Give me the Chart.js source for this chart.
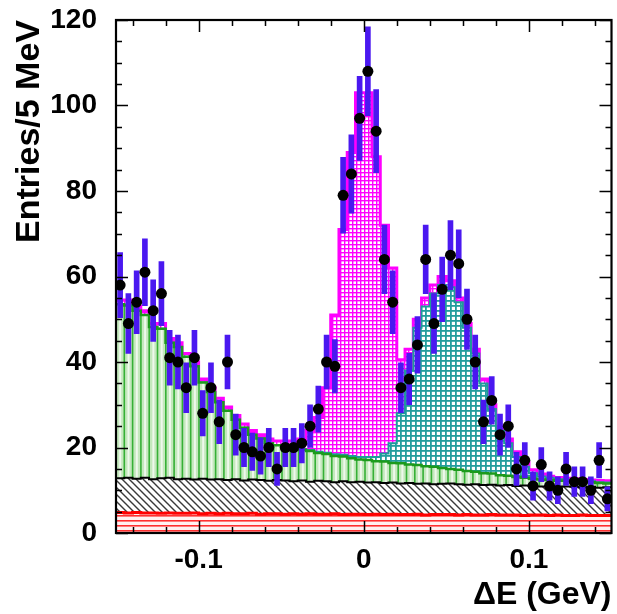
<!DOCTYPE html>
<html>
<head>
<meta charset="utf-8">
<script src="https://cdn.jsdelivr.net/npm/chart.js@4.4.1/dist/chart.umd.min.js"></script>
<style>
  html, body { margin: 0; padding: 0; background: #fff; }
  canvas { display: block; }
</style>
</head>
<body>
<canvas id="c" width="617" height="614"></canvas>
<script>
// ΔE distribution: 60 bins of 5 MeV between -0.15 and 0.15 GeV
const binLow = -0.15;
const binWidth = 0.005;
const nBins = 60;

// observed entries per bin
const entries = [
  58, 49, 54, 61, 52, 56, 41, 40, 34, 41,
  28, 34, 26, 40, 23, 20, 19, 18, 20, 15,
  20, 20, 21, 25, 29, 40, 39, 79, 84, 97,
  108, 94, 64, 54, 34, 36, 44, 64, 49, 57,
  65, 63, 50, 40, 26, 31, 23, 25, 15, 17,
  11, 16, 11, 10, 15, 12, 12, 10, 17, 8
];

// stacked fit components, as the cumulative top edge of each layer
const topRed = [
  4.8, 4.7, 4.8, 4.7, 4.7, 4.6, 4.7, 4.6, 4.6, 4.7,
  4.5, 4.6, 4.5, 4.6, 4.5, 4.5, 4.6, 4.4, 4.5, 4.5,
  4.4, 4.5, 4.4, 4.5, 4.4, 4.4, 4.5, 4.3, 4.4, 4.4,
  4.3, 4.4, 4.3, 4.4, 4.3, 4.3, 4.4, 4.2, 4.3, 4.3,
  4.3, 4.2, 4.3, 4.2, 4.2, 4.3, 4.2, 4.2, 4.2, 4.1,
  4.2, 4.2, 4.1, 4.2, 4.1, 4.1, 4.2, 4.1, 4.1, 4.1
];
const topBlack = [
  12.8, 12.9, 12.7, 12.9, 12.6, 12.8, 12.9, 12.6, 12.7, 12.5,
  12.7, 12.5, 12.6, 12.4, 12.6, 12.3, 12.5, 12.4, 12.2, 12.4,
  12.3, 12.1, 12.3, 12.0, 12.2, 12.1, 11.9, 12.1, 11.9, 12.0,
  11.8, 11.9, 11.7, 11.8, 11.6, 11.7, 11.5, 11.6, 11.4, 11.5,
  11.6, 11.4, 11.3, 11.4, 11.2, 11.3, 11.1, 11.2, 11.0, 11.1,
  11.0, 10.9, 11.0, 10.8, 10.9, 10.8, 10.7, 10.8, 10.6, 10.7
];
const topGreen = [
  53.5, 53.2, 52.0, 51.0, 48.2, 47.8, 44.5, 43.5, 41.2, 39.0,
  35.2, 33.0, 30.6, 28.6, 26.5, 24.6, 23.0, 22.1, 21.0, 20.5,
  20.2, 19.9, 19.5, 19.2, 18.7, 18.5, 18.0, 17.9, 17.5, 17.2,
  17.1, 16.8, 16.7, 16.4, 16.3, 16.0, 15.9, 15.6, 15.5, 15.2,
  15.0, 14.8, 14.5, 14.3, 14.0, 13.9, 13.5, 13.4, 13.1, 12.9,
  12.7, 12.5, 12.4, 12.2, 12.2, 12.0, 11.9, 11.9, 11.7, 11.6
];
const topCyan = [
  53.5, 53.2, 52.0, 51.0, 48.2, 47.8, 44.5, 43.5, 41.2, 39.0,
  35.2, 33.0, 30.6, 28.6, 26.5, 24.6, 23.0, 22.1, 21.0, 20.5,
  20.2, 19.9, 19.6, 19.4, 19.0, 18.8, 18.4, 18.3, 18.0, 17.8,
  17.8, 17.8, 18.6, 21.0, 28.0, 38.0, 48.0, 53.0, 56.0, 58.0,
  57.5, 54.0, 48.0, 42.0, 35.0, 29.0, 24.0, 21.0, 17.8, 15.5,
  14.0, 13.2, 12.9, 12.6, 12.5, 12.3, 12.2, 12.1, 11.9, 11.8
];
const topTotal = [
  54.5, 54.5, 53.0, 52.0, 49.0, 49.0, 45.5, 44.5, 42.0, 40.0,
  36.0, 34.0, 31.5, 29.5, 27.5, 25.5, 24.0, 23.0, 22.0, 21.5,
  21.5, 21.5, 22.0, 24.0, 27.0, 34.0, 51.0, 71.0, 89.0, 103.0,
  103.0, 88.0, 72.0, 62.0, 40.5, 43.0, 50.0, 55.0, 58.0, 60.0,
  59.0, 55.0, 49.0, 43.0, 36.0, 30.0, 25.0, 22.0, 19.0, 16.5,
  14.8, 13.8, 13.3, 13.0, 12.8, 12.7, 12.5, 12.4, 12.3, 12.2
];

const xTickValues = [-0.1, 0, 0.1];
const yRange = [0, 120];

const FAMILY = '"Liberation Sans", Arial, Helvetica, sans-serif';
const FONT = { family: FAMILY, size: 28, weight: 'bold' };

const canvas = document.getElementById('c');
const ctx = canvas.getContext('2d');

// hatch/fill textures for the histogram layers
function tile(w, h, paint) {
  const t = document.createElement('canvas');
  t.width = w; t.height = h;
  paint(t.getContext('2d'), w, h);
  return ctx.createPattern(t, 'repeat');
}
const redFill = tile(4, 5, (g, w, h) => {
  g.fillStyle = '#fff2f2'; g.fillRect(0, 0, w, h);
  g.fillStyle = '#ff3030'; g.fillRect(0, 0, w, 1.6);
});
const blackFill = tile(7, 7, (g, w, h) => {
  g.fillStyle = '#ffffff'; g.fillRect(0, 0, w, h);
  g.strokeStyle = '#3a3a3a'; g.lineWidth = 1.4;
  g.beginPath();
  for (const k of [-7, 0, 7]) { g.moveTo(k - 1, -1); g.lineTo(k + 8, 8); }
  g.stroke();
});
const greenFill = tile(83, 8, (g, w, h) => {
  g.fillStyle = '#c4e8bd'; g.fillRect(0, 0, w, h);
  for (let k = 0; k <= 10; k++) {
    const x0 = k * 8.3;
    g.fillStyle = '#eef8ec'; g.fillRect(x0 + 3.2, 0, 2.0, h);
    g.fillStyle = '#36b036'; g.fillRect(x0 - 0.8, 0, 1.6, h);
  }
});
greenFill.setTransform(new DOMMatrix().translate(116, 0));
const cyanFill = tile(5, 5, (g, w, h) => {
  g.fillStyle = '#ffffff'; g.fillRect(0, 0, w, h);
  g.fillStyle = '#239d9d'; g.fillRect(0, 0, w, 1.8); g.fillRect(0, 0, 1.8, h);
});
const pinkFill = tile(4, 4, (g, w, h) => {
  g.fillStyle = '#ff00ff'; g.fillRect(0, 0, w, h);
  g.fillStyle = '#ffffff'; g.fillRect(1.4, 1.4, 2.6, 2.6);
});

// bin edges / centres
const edges = [];
for (let j = 0; j <= nBins; j++) edges.push(binLow + binWidth * j);
const centres = edges.slice(0, nBins).map(e => e + binWidth / 2);

// histogram step outline: value of bin j spans [edge j, edge j+1]
function stepData(levels) {
  return edges.map((x, j) => ({ x, y: levels[Math.min(j, nBins - 1)] }));
}
function layer(levels, fillStyle, lineColor, lineWidth) {
  return {
    type: 'line',
    data: stepData(levels),
    stepped: 'before',
    fill: 'origin',
    backgroundColor: fillStyle,
    borderColor: lineColor,
    borderWidth: lineWidth,
    pointRadius: 0,
    tension: 0
  };
}

const markers = {
  type: 'line',
  data: entries.map((n, i) => ({ x: centres[i], y: n })),
  showLine: false,
  pointRadius: 5.5,
  pointBackgroundColor: '#000',
  pointBorderWidth: 0
};
const errorBars = {
  type: 'bar',
  data: entries.map((n, i) => ({ x: centres[i], y: [n - Math.sqrt(n), n + Math.sqrt(n)] })),
  backgroundColor: '#4a18f0',
  borderWidth: 0,
  barThickness: 5
};

// frame box with inward ticks on all four sides
const frameTicks = {
  id: 'frameTicks',
  afterDatasetsDraw(chart) {
    const { ctx: g, chartArea: a, scales: { x, y } } = chart;
    g.save();
    g.strokeStyle = '#000';
    g.lineWidth = 1.5;
    g.beginPath();
    for (let v = yRange[0]; v <= yRange[1]; v += 5) {
      const py = Math.round(y.getPixelForValue(v)) + 0.5;
      const len = v % 20 === 0 ? 12 : 6;
      g.moveTo(a.left, py); g.lineTo(a.left + len, py);
      g.moveTo(a.right, py); g.lineTo(a.right - len, py);
    }
    for (let k = -7; k <= 7; k++) {
      const px = Math.round(x.getPixelForValue(k * 0.02)) + 0.5;
      const len = k % 5 === 0 ? 12 : 6;
      g.moveTo(px, a.bottom); g.lineTo(px, a.bottom - len);
      g.moveTo(px, a.top); g.lineTo(px, a.top + len);
    }
    g.stroke();
    g.lineWidth = 2.2;
    g.strokeRect(a.left, a.top, a.right - a.left, a.bottom - a.top);
    g.restore();
  }
};

new Chart(ctx, {
  type: 'bar',
  data: {
    datasets: [
      markers,
      errorBars,
      layer(topRed, redFill, '#ff0000', 3),
      layer(topBlack, blackFill, '#000000', 2),
      layer(topGreen, greenFill, '#1c9a1c', 2.5),
      layer(topCyan, cyanFill, '#1d9b9b', 2),
      layer(topTotal, pinkFill, '#ff00ff', 3)
    ]
  },
  options: {
    responsive: false,
    animation: false,
    devicePixelRatio: 1,
    events: [],
    layout: { padding: { top: 20, right: 3, left: 0, bottom: 0 } },
    plugins: { legend: { display: false }, tooltip: { enabled: false } },
    scales: {
      x: {
        type: 'linear',
        min: binLow,
        max: binLow + binWidth * nBins,
        offset: false,
        grid: { display: false, drawTicks: false },
        border: { display: false },
        afterBuildTicks: s => { s.ticks = xTickValues.map(v => ({ value: v })); },
        afterFit: s => { s.height = 81; s.paddingLeft = 0; s.paddingRight = 0; },
        ticks: {
          autoSkip: false, maxRotation: 0, padding: 10, color: '#000', font: FONT,
          callback: v => (v === 0 ? '0' : v.toFixed(1))
        },
        title: {
          display: true, text: 'ΔE (GeV)', align: 'end', color: '#000',
          font: { family: FAMILY, size: 32, weight: 'bold' },
          padding: { top: 0, bottom: 0 }
        }
      },
      y: {
        min: yRange[0],
        max: yRange[1],
        grid: { display: false, drawTicks: false },
        border: { display: false },
        afterFit: s => { s.width = 116; s.paddingTop = 0; s.paddingBottom = 0; },
        ticks: { stepSize: 20, padding: 19, color: '#000', font: FONT },
        title: {
          display: true, text: 'Entries/5 MeV', align: 'end', color: '#000',
          font: { family: FAMILY, size: 34, weight: 'bold' },
          padding: { top: 9, bottom: 0 }
        }
      }
    }
  },
  plugins: [frameTicks]
});
</script>
</body>
</html>
